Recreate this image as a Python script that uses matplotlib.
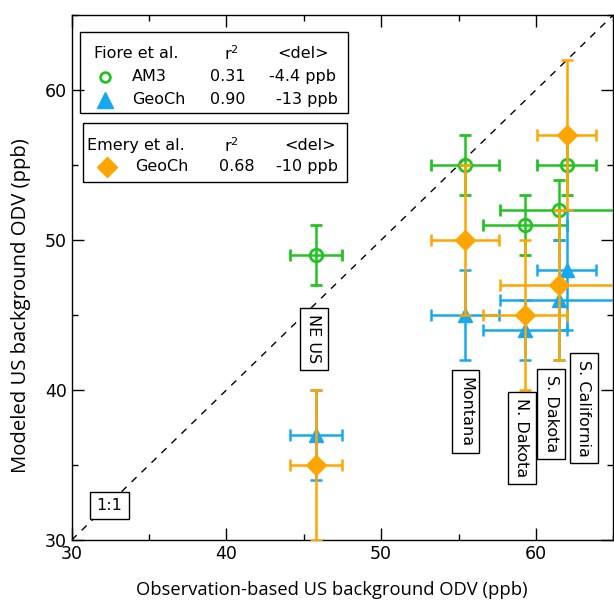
import matplotlib
matplotlib.use("Agg")
import matplotlib.pyplot as plt
from matplotlib.patches import Rectangle
from matplotlib.ticker import MultipleLocator

plt.rcParams['font.family'] = ['DejaVu Sans']
plt.rcParams['mathtext.default'] = 'regular'

# ── data (ppb) ────────────────────────────────────────────────────────────────
sites      = ["NE US", "Montana", "N. Dakota", "S. Dakota", "S. California"]
obs_x      = [45.8, 55.4, 59.3, 61.5, 62.0]
obs_xerr   = [1.7, 2.2, 2.7, 3.8, 1.9]
am3_y      = [49, 55, 51, 52, 55]
am3_yerr   = [2, 2, 2, 2, 2]
geoch_y    = [37, 45, 44, 46, 48]
geoch_yerr = [3, 3, 2, 4, 4]
emery_y    = [35, 50, 45, 47, 57]
emery_yerr = [5, 5, 5, 5, 5]

# where the site name boxes sit (data coords)
label_x = [45.65, 55.45, 59.1, 61.0, 63.1]
label_y = [43.4, 38.55, 36.8, 38.4, 38.8]

GREEN  = "#22c322"
BLUE   = "#17a8f0"
ORANGE = "#ffa500"

fig = plt.figure(figsize=(6.14, 6.02), dpi=100)
ax = fig.add_axes([0.1168, 0.103, 0.882, 0.872])

ax.plot([30, 65], [30, 65], ls=(0, (5, 5)), color="black", lw=1, zorder=1)

eb_kw = dict(capsize=4, capthick=1.8, elinewidth=1.8, lw=0)
ax.errorbar(obs_x, am3_y, xerr=obs_xerr, yerr=am3_yerr, fmt="o", color=GREEN,
            mfc="none", mec=GREEN, mew=2, ms=9, zorder=3, **eb_kw)
ax.errorbar(obs_x, geoch_y, xerr=obs_xerr, yerr=geoch_yerr, fmt="^", color=BLUE,
            ms=10, zorder=4, **eb_kw)
ax.errorbar(obs_x, emery_y, xerr=obs_xerr, yerr=emery_yerr, fmt="D", color=ORANGE,
            ms=10, zorder=5, **eb_kw)

box = dict(boxstyle="square,pad=0.4", fc="white", ec="black", lw=1)
for name, lx, ly in zip(sites, label_x, label_y):
    ax.text(lx, ly, name, rotation=-90, ha="center", va="center",
            fontsize=11.5, bbox=box, zorder=6)
ax.text(32.45, 32.3, "1:1", ha="center", va="center", fontsize=11.5, bbox=box, zorder=6)

# ── legend tables ─────────────────────────────────────────────────────────────
T = ax.transAxes
ax.add_patch(Rectangle((0.0153, 0.814), 0.4954, 0.153, transform=T, fill=False,
                       ec="black", lw=1, zorder=7))
ax.add_patch(Rectangle((0.0203, 0.6825), 0.4886, 0.1125, transform=T, fill=False,
                       ec="black", lw=1, zorder=7))
fs = 11.5
ax.text(0.0417, 0.927, "Fiore et al.", transform=T, fontsize=fs, va="center")
ax.text(0.2954, 0.927, "r$^2$", transform=T, fontsize=fs, va="center", ha="center")
ax.text(0.427, 0.927, "<del>", transform=T, fontsize=fs, va="center", ha="center")
ax.plot([0.0615], [0.882], "o", transform=T, mfc="none", mec=GREEN, mew=2, ms=7, clip_on=False)
ax.text(0.1108, 0.882, "AM3", transform=T, fontsize=fs, va="center")
ax.text(0.2886, 0.882, "0.31", transform=T, fontsize=fs, va="center", ha="center")
ax.text(0.427, 0.882, "-4.4 ppb", transform=T, fontsize=fs, va="center", ha="center")
ax.plot([0.0615], [0.839], "^", transform=T, color=BLUE, ms=11, clip_on=False)
ax.text(0.1108, 0.839, "GeoCh", transform=T, fontsize=fs, va="center")
ax.text(0.2886, 0.839, "0.90", transform=T, fontsize=fs, va="center", ha="center")
ax.text(0.434, 0.839, "-13 ppb", transform=T, fontsize=fs, va="center", ha="center")

ax.text(0.0277, 0.752, "Emery et al.", transform=T, fontsize=fs, va="center")
ax.text(0.2954, 0.752, "r$^2$", transform=T, fontsize=fs, va="center", ha="center")
ax.text(0.44, 0.752, "<del>", transform=T, fontsize=fs, va="center", ha="center")
ax.plot([0.0646], [0.711], "D", transform=T, color=ORANGE, ms=10, clip_on=False)
ax.text(0.1169, 0.711, "GeoCh", transform=T, fontsize=fs, va="center")
ax.text(0.3047, 0.711, "0.68", transform=T, fontsize=fs, va="center", ha="center")
ax.text(0.434, 0.711, "-10 ppb", transform=T, fontsize=fs, va="center", ha="center")

# ── axes ──────────────────────────────────────────────────────────────────────
ax.set_xlim(30, 65)
ax.set_ylim(30, 65)
ax.xaxis.set_major_locator(MultipleLocator(10))
ax.yaxis.set_major_locator(MultipleLocator(10))
ax.xaxis.set_minor_locator(MultipleLocator(5))
ax.yaxis.set_minor_locator(MultipleLocator(5))
ax.tick_params(which="both", direction="in", top=True, right=True, labelsize=12.5, width=1)
ax.tick_params(which="major", length=8.5)
ax.tick_params(which="minor", length=4.3)
for s in ax.spines.values():
    s.set_linewidth(1)

ax.set_xlabel("Observation-based US background ODV (ppb)", fontsize=13.2,
              family="Open Sans", va="baseline")
ax.xaxis.set_label_coords(0.48, -0.105)
ax.set_ylabel("Modeled US background ODV (ppb)", fontsize=14.6,
              family="Open Sans", va="center")
ax.yaxis.set_label_coords(-0.094, 0.446)

fig.savefig("out.png", dpi=100)
